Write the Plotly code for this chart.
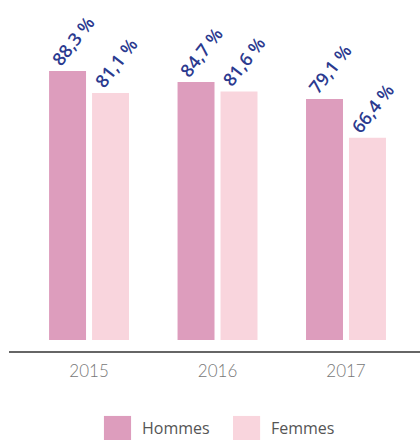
import plotly.graph_objects as go

years = ["2015", "2016", "2017"]
hommes = [88.3, 84.7, 79.1]
femmes = [81.1, 81.6, 66.4]
series_names = ["Hommes", "Femmes"]
series_colors = ["#dd9dbd", "#f9d5dd"]

label_color = "#2b3a8f"

fig = go.Figure()
for name, vals, col in zip(series_names, [hommes, femmes], series_colors):
    fig.add_trace(go.Bar(x=years, y=vals, name=name, marker=dict(color=col, line=dict(width=0)),
                         showlegend=False, hoverinfo="skip"))

# rotated value labels above each bar
annotations = []
for k, vals in enumerate([hommes, femmes]):
    off = -0.167 if k == 0 else 0.167
    for i, v in enumerate(vals):
        annotations.append(dict(
            x=i + off, y=v, xref="x", yref="y",
            text=f"{v:.1f}".replace(".", ",") + " %",
            textangle=-52, showarrow=False,
            xanchor="center", yanchor="middle",
            xshift=5, yshift=30,
            font=dict(family="Open Sans", size=18, color=label_color, weight=600)
        ))

# custom legend (large squares)
shapes = []
leg_x = [0.231, 0.545]
for name, col, lx in zip(series_names, series_colors, leg_x):
    shapes.append(dict(type="rect", xref="paper", yref="paper",
                       x0=lx, x1=lx + 0.066, y0=-0.254, y1=-0.185,
                       fillcolor=col, line=dict(width=0)))
    annotations.append(dict(x=lx + 0.088, y=-0.219, xref="paper", yref="paper",
                            text=name, showarrow=False, xanchor="left", yanchor="middle",
                            font=dict(family="Open Sans", size=16, color="#555555")))

fig.update_layout(
    width=420, height=440,
    margin=dict(l=9, r=0, t=0, b=89),
    plot_bgcolor="white", paper_bgcolor="white",
    barmode="group", bargap=0.331, bargroupgap=0.14,
    xaxis=dict(range=[-0.623, 2.576], showgrid=False, zeroline=False,
               showline=True, linecolor="#666666", linewidth=1.5,
               ticks="", ticklabelstandoff=4,
               tickfont=dict(family="Lato", size=17, color="#777777", weight=300)),
    yaxis=dict(range=[-3.61, 111.6], visible=False),
    annotations=annotations,
    shapes=shapes,
)

# drop the default page margin so the figure fills the window exactly
fig.write_html("out.html", config={"displayModeBar": False},
               post_script="document.body.style.margin='0px';")
